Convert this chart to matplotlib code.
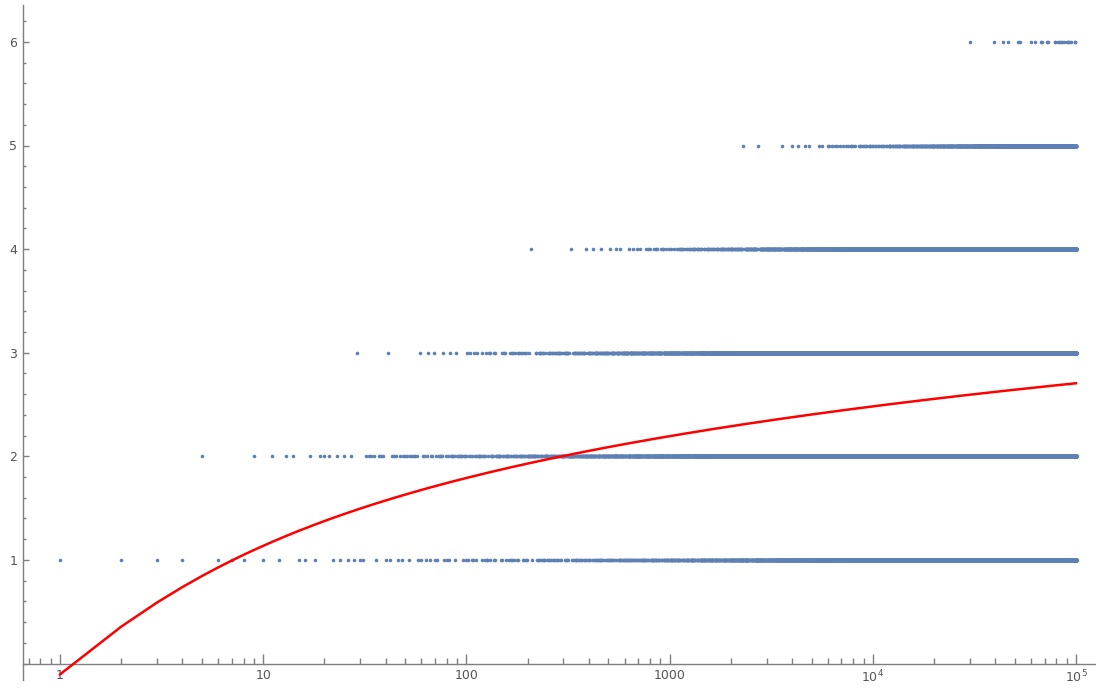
import numpy as np
import matplotlib.pyplot as plt
from matplotlib.ticker import FixedLocator, NullFormatter

# Data: number of distinct prime factors of n+1 for n = 1 .. N_MAX,
# with the average-order curve log(log(n+1)) + Mertens constant on top.
N_MAX = 100000
MERTENS = 0.2615
Y_TICKS = [1, 2, 3, 4, 5, 6]
X_TICKS = [1, 10, 100, 1000, 1e4, 1e5]
X_TICK_LABELS = ["1", "10", "100", "1000", r"$10^{4}$", r"$10^{5}$"]

n = np.arange(1, N_MAX + 1)

# sieve for omega(m), m = 0 .. N_MAX+1
omega = np.zeros(N_MAX + 2, dtype=int)
for p in range(2, N_MAX + 2):
    if omega[p] == 0:
        omega[p::p] += 1
counts = omega[n + 1]
avg_curve = np.log(np.log(n + 1)) + MERTENS

# figure layout (pixel based, 1096x688)
W, H = 1096, 688
fig = plt.figure(figsize=(W / 100, H / 100), dpi=100)
left_px, right_px, top_px, bot_px = 23, 1096, 5, 680
ax = fig.add_axes([left_px / W, 1 - bot_px / H,
                   (right_px - left_px) / W, (bot_px - top_px) / H])

px_per_dec = 203.2
x1_px = 60
ax.set_xscale("log")
ax.set_xlim(10 ** ((left_px - x1_px) / px_per_dec),
            10 ** ((right_px - x1_px) / px_per_dec))
px_per_unit = 103.6
y0_px = 663.5
ax.set_ylim(-(bot_px - y0_px) / px_per_unit, (y0_px - top_px) / px_per_unit)

ax.plot(n, counts, linestyle="none", marker="o", ms=2.6, mew=0,
        color="#5e81b5", zorder=2)
ax.plot(n, avg_curve, color="#ff0000", lw=1.8, zorder=3)

# Mathematica-like axes
for s in ["top", "right"]:
    ax.spines[s].set_visible(False)
ax.spines["bottom"].set_position(("data", 0))
for s in ["left", "bottom"]:
    ax.spines[s].set_color("#7f7f7f")
    ax.spines[s].set_linewidth(1.0)

ax.xaxis.set_major_locator(FixedLocator(X_TICKS))
ax.set_xticklabels(X_TICK_LABELS)
minor_x = [m * 10.0 ** e for e in range(-1, 6) for m in range(2, 10)]
ax.xaxis.set_minor_locator(FixedLocator(minor_x))
ax.xaxis.set_minor_formatter(NullFormatter())

ax.set_yticks(Y_TICKS)
ax.yaxis.set_minor_locator(FixedLocator(np.arange(-0.2, 6.41, 0.2)))

ax.tick_params(axis="x", which="major", direction="in", length=7.5, width=1,
               color="#7f7f7f", labelsize=9, labelcolor="#555555", pad=4)
ax.tick_params(axis="x", which="minor", direction="in", length=4.5, width=1,
               color="#7f7f7f")
ax.tick_params(axis="y", which="major", direction="in", length=4.5, width=1,
               color="#7f7f7f", labelsize=9, labelcolor="#555555", pad=4)
ax.tick_params(axis="y", which="minor", direction="in", length=2.5, width=1,
               color="#7f7f7f")
ax.set_facecolor("white")

fig.savefig("out.png", dpi=100)
